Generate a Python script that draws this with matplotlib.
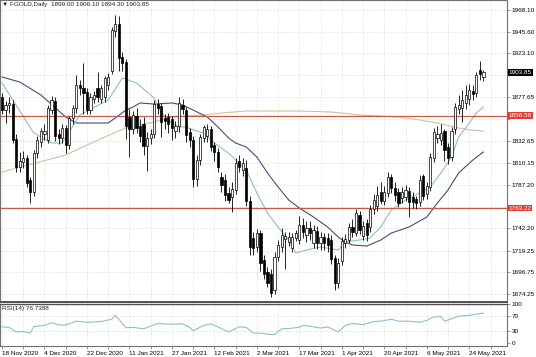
import numpy as np
import matplotlib
matplotlib.use('Agg')
import matplotlib.pyplot as plt

plt.rcParams['font.family'] = ['Liberation Sans', 'DejaVu Sans']

# daily candles (bar index 0 = 18 Nov 2020)
opens = [1878, 1865, 1870, 1871, 1835, 1806, 1811, 1815, 1792, 1780, 1820, 1832, 1840, 1834, 1865, 1874,
         1840, 1836, 1846, 1828, 1856, 1867, 1891, 1887, 1883, 1865, 1876, 1887, 1876, 1878, 1890, 1905,
         1946, 1954, 1919, 1914, 1857, 1845, 1858, 1848, 1850, 1827, 1836, 1840, 1871, 1869, 1856, 1857,
         1855, 1843, 1848, 1870, 1865, 1842, 1834, 1793, 1813, 1836, 1838, 1845, 1828, 1821, 1795, 1792,
         1779, 1775, 1782, 1812, 1803, 1805, 1771, 1732, 1723, 1737, 1709, 1697, 1695, 1678, 1713, 1723,
         1731, 1728, 1722, 1732, 1730, 1746, 1735, 1743, 1727, 1739, 1727, 1733, 1732, 1730, 1712, 1686,
         1708, 1727, 1730, 1744, 1737, 1756, 1734, 1748, 1744, 1762, 1765, 1780, 1771, 1779, 1795, 1784,
         1780, 1774, 1775, 1781, 1775, 1773, 1769, 1796, 1778, 1785, 1815, 1836, 1834, 1843, 1826, 1816,
         1845, 1866, 1867, 1872, 1876, 1884, 1882, 1906, 1899.00]
highs = [1882, 1874, 1878, 1875, 1840, 1821, 1822, 1818, 1795, 1823, 1838, 1846, 1850, 1870, 1879, 1878,
         1845, 1850, 1849, 1858, 1870, 1901, 1896, 1913, 1887, 1882, 1884, 1904, 1890, 1900, 1903, 1950,
         1963, 1962, 1925, 1917, 1866, 1864, 1867, 1855, 1857, 1842, 1845, 1875, 1876, 1872, 1860, 1862,
         1858, 1853, 1878, 1876, 1868, 1846, 1838, 1818, 1840, 1849, 1850, 1848, 1832, 1825, 1800, 1798,
         1785, 1790, 1815, 1818, 1815, 1813, 1776, 1738, 1742, 1740, 1715, 1702, 1700, 1718, 1730, 1743,
         1738, 1738, 1737, 1741, 1755, 1753, 1750, 1750, 1746, 1745, 1738, 1737, 1737, 1735, 1715, 1712,
         1733, 1736, 1748, 1752, 1762, 1760, 1750, 1752, 1766, 1778, 1786, 1790, 1786, 1800, 1798, 1790,
         1784, 1785, 1787, 1785, 1780, 1776, 1797, 1798, 1790, 1820, 1846, 1848, 1850, 1845, 1830, 1847,
         1872, 1880, 1885, 1890, 1892, 1890, 1904, 1915, 1906.10]
lows = [1860, 1851, 1862, 1830, 1800, 1800, 1805, 1785, 1768, 1776, 1815, 1826, 1834, 1830, 1860, 1833,
        1829, 1830, 1820, 1824, 1850, 1862, 1880, 1860, 1860, 1860, 1872, 1873, 1872, 1873, 1885, 1902,
        1940, 1905, 1905, 1835, 1816, 1840, 1841, 1832, 1818, 1802, 1829, 1836, 1860, 1837, 1845, 1841,
        1834, 1836, 1842, 1860, 1832, 1826, 1785, 1786, 1808, 1832, 1832, 1822, 1812, 1800, 1780, 1770,
        1768, 1759, 1778, 1800, 1796, 1765, 1715, 1715, 1718, 1698, 1690, 1682, 1671, 1674, 1708, 1718,
        1700, 1724, 1718, 1729, 1726, 1732, 1728, 1730, 1722, 1721, 1720, 1720, 1718, 1705, 1678, 1680,
        1704, 1722, 1727, 1733, 1734, 1736, 1730, 1729, 1738, 1757, 1760, 1767, 1766, 1775, 1779, 1771,
        1764, 1768, 1770, 1754, 1763, 1762, 1765, 1772, 1773, 1781, 1811, 1830, 1828, 1812, 1809, 1812,
        1840, 1860, 1852, 1866, 1870, 1875, 1878, 1896, 1894.30]
closes = [1865, 1870, 1872, 1834, 1806, 1812, 1815, 1789, 1780, 1820, 1834, 1843, 1843, 1867, 1875, 1838,
          1836, 1846, 1828, 1856, 1867, 1890, 1887, 1882, 1865, 1878, 1880, 1878, 1887, 1898, 1899, 1947,
          1954, 1918, 1913, 1848, 1845, 1859, 1846, 1838, 1827, 1836, 1840, 1871, 1867, 1852, 1853, 1850,
          1846, 1848, 1872, 1866, 1839, 1834, 1793, 1813, 1837, 1847, 1845, 1826, 1821, 1806, 1787, 1777,
          1772, 1783, 1810, 1806, 1810, 1770, 1723, 1722, 1737, 1706, 1695, 1686, 1675, 1713, 1725, 1735,
          1734, 1733, 1733, 1737, 1746, 1738, 1743, 1737, 1740, 1727, 1733, 1727, 1725, 1710, 1686, 1706,
          1729, 1731, 1744, 1738, 1758, 1741, 1745, 1735, 1762, 1772, 1777, 1771, 1780, 1795, 1784, 1777,
          1768, 1780, 1782, 1769, 1769, 1768, 1792, 1776, 1786, 1816, 1842, 1840, 1841, 1823, 1815, 1843,
          1868, 1870, 1875, 1880, 1885, 1881, 1901, 1902, 1903.85]

# moving averages read at a few bars
ma_fast_idx = [0, 9, 14, 17, 22, 30, 34, 38, 43, 45, 48, 50, 52, 54, 57, 60, 64, 69, 72, 75, 78, 81, 83,
               86, 90, 95, 97, 101, 104, 107, 110, 114, 118, 121, 124, 127, 129, 132, 134, 136]
ma_fast = [1892.6, 1840.8, 1830.5, 1830.5, 1859.5, 1875.0, 1897.7, 1892.6, 1877.1, 1861.5, 1851.2, 1847.1,
           1847.1, 1844.0, 1840.8, 1830.5, 1820.0, 1802.6, 1778.8, 1758.1, 1743.6, 1730.1, 1716.7, 1719.8,
           1722.9, 1719.8, 1728.0, 1730.1, 1732.2, 1743.6, 1761.2, 1771.5, 1778.8, 1785.0, 1799.5, 1816.0,
           1836.7, 1851.2, 1861.5, 1867.7]
ma_mid_idx = [0, 5, 11, 18, 21, 30, 32, 35, 37, 39, 43, 48, 51, 54, 58, 61, 64, 66, 69, 72, 75, 78, 81,
              84, 88, 92, 95, 97, 99, 103, 107, 110, 115, 120, 123, 126, 129, 133, 136]
ma_mid = [1898.8, 1893.6, 1880.2, 1857.4, 1851.2, 1851.2, 1856.4, 1864.6, 1867.7, 1871.9, 1870.8, 1871.9,
          1869.8, 1864.6, 1857.4, 1847.1, 1835.7, 1830.5, 1826.4, 1816.0, 1799.5, 1785.0, 1771.5, 1763.3,
          1753.9, 1743.6, 1733.2, 1728.0, 1725.0, 1723.9, 1730.1, 1737.4, 1743.6, 1753.9, 1768.4,
          1781.9, 1799.5, 1812.9, 1821.2]
ma_slow_idx = [0, 18, 29, 35, 38, 43, 47, 52, 57, 62, 69, 84, 93, 101, 112, 118, 123, 129, 132, 136]
ma_slow = [1800.5, 1818.1, 1836.7, 1846.0, 1849.1, 1852.2, 1856.4, 1858.5, 1859.5, 1861.5, 1863.6, 1863.6,
           1862.6, 1859.5, 1857.4, 1854.3, 1851.2, 1846.0, 1844.0, 1842.9]

rsi_idx = [0, 2, 4, 6, 8, 9, 12, 14, 16, 18, 21, 24, 28, 31, 32, 33, 35, 37, 40, 44, 47, 51, 53, 54, 57,
           59, 61, 64, 67, 69, 71, 74, 75, 77, 79, 81, 84, 85, 87, 90, 92, 95, 97, 99, 102, 105, 107, 110,
           112, 115, 118, 120, 122, 124, 125, 127, 129, 132, 135, 136]
rsi = [41, 40, 28, 29, 25, 42, 45, 52, 46, 46, 56, 53, 55, 61, 71, 61, 39, 40, 36, 50, 48, 49, 40, 31, 45,
       49, 41, 28, 41, 40, 25, 24, 22, 21, 36, 37, 40, 45, 43, 38, 41, 28, 45, 50, 47, 55, 56, 61, 56, 56,
       53, 58, 67, 68, 56, 62, 69, 71, 76, 76.74]

levels = [1858.58, 1763.22]
price_ticks = [1968.10, 1945.60, 1923.10, 1900.60, 1877.65, 1855.15, 1832.65, 1810.15, 1787.20,
               1764.70, 1742.20, 1719.25, 1696.75, 1674.25]
price_labels = ['1968.10', '1945.60', '1923.10', '', '1877.65', '', '1832.65', '1810.15', '1787.20',
                '', '1742.20', '1719.25', '1696.75', '1674.25']
date_labels = ['18 Nov 2020', '4 Dec 2020', '22 Dec 2020', '11 Jan 2021', '27 Jan 2021', '12 Feb 2021',
               '2 Mar 2021', '17 Mar 2021', '1 Apr 2021', '20 Apr 2021', '6 May 2021', '24 May 2021']

o, h, l, c = map(np.array, (opens, highs, lows, closes))
x = np.arange(len(c))
fs = 4.6
grid_kw = dict(color='#cfcfcf', linestyle=(0, (1, 1.5)), linewidth=0.5)

fig = plt.figure(figsize=(5.36, 3.57), dpi=100)
ax = fig.add_axes([0, 55 / 357, 507 / 536, 302 / 357])
ax2 = fig.add_axes([0, 11 / 357, 507 / 536, 42 / 357])

for a in (ax, ax2):
    a.set_xlim(-0.56, 142.66)
    a.set_xticks(np.arange(0, 143, 6))
    a.grid(True, axis='x', **grid_kw)
    for s in a.spines.values():
        s.set_color('#707070')
        s.set_linewidth(0.8)
    a.tick_params(axis='both', length=2, width=0.5, color='#707070', labelsize=fs, pad=1.5)
    a.yaxis.tick_right()

# main price panel
ax.set_ylim(1666.0, 1978.45)
ax.set_yticks(price_ticks)
ax.set_yticklabels(price_labels)
ax.grid(True, axis='y', **grid_kw)
ax.tick_params(axis='x', labelbottom=False, length=0)
ax.spines['bottom'].set_linewidth(1.4)
ax.spines['bottom'].set_color('#505050')

ax.vlines(x, l, h, color='black', linewidth=0.6, zorder=3)
up = c >= o
body = np.maximum(np.abs(c - o), 0.4)
ax.bar(x[up], body[up], bottom=o[up], width=0.62, color='white', edgecolor='black', linewidth=0.5, zorder=4)
ax.bar(x[~up], body[~up], bottom=c[~up], width=0.62, color='black', edgecolor='black', linewidth=0.5, zorder=4)

ax.plot(ma_slow_idx, ma_slow, color='#d4bfa0', linewidth=0.8, zorder=2)
ax.plot(ma_mid_idx, ma_mid, color='#4b4b7d', linewidth=0.8, zorder=2)
ax.plot(ma_fast_idx, ma_fast, color='#8cc4b6', linewidth=0.8, zorder=2)

for lv in levels:
    ax.axhline(lv, color='#c45a48', linewidth=0.9, zorder=2)
    ax.text(1.003, lv, '%.2f' % lv, transform=ax.get_yaxis_transform(), fontsize=fs, color='white',
            va='center', ha='left', clip_on=False, zorder=10,
            bbox=dict(boxstyle='square,pad=0.15', facecolor='#e03c31', edgecolor='none'))
ax.text(1.003, c[-1], '%.2f' % c[-1], transform=ax.get_yaxis_transform(), fontsize=fs, color='white',
        va='center', ha='left', clip_on=False, zorder=10,
        bbox=dict(boxstyle='square,pad=0.15', facecolor='black', edgecolor='none'))

ax.text(0.004, 0.993, '\u25bc FGOLD,Daily  %.2f %.2f %.2f %.2f' % (o[-1], h[-1], l[-1], c[-1]),
        transform=ax.transAxes, fontsize=fs, va='top', ha='left', color='#222222')

# RSI panel
ax2.set_ylim(-8.7, 100.7)
ax2.set_yticks([100, 70, 30, 0])
for lv in (70, 30):
    ax2.axhline(lv, **grid_kw)
ax2.plot(rsi_idx, rsi, color='#8ebfd6', linewidth=0.8)
ax2.set_xticklabels([date_labels[i // 2] if i % 2 == 0 else '' for i in range(24)], ha='left')
ax2.spines['top'].set_linewidth(1.0)
ax2.spines['top'].set_color('#505050')
ax2.text(0.004, 0.96, 'RSI(14) 76.7388', transform=ax2.transAxes, fontsize=fs, va='top', ha='left',
         color='#222222')

fig.savefig('out.png', dpi=100, facecolor='white')
